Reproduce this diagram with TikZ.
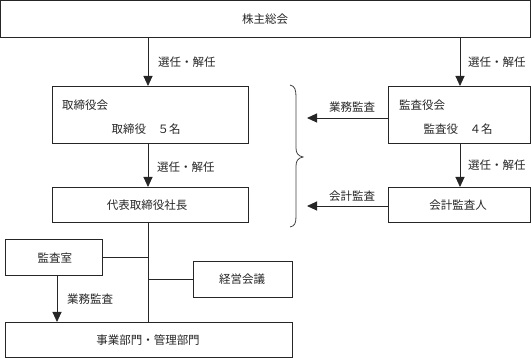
\documentclass[tikz,border=0pt]{standalone}
\usepackage{fontspec}
\newfontfamily\jp{Noto Sans CJK JP}
\usetikzlibrary{arrows.meta}
\tikzset{
  box/.style={draw=black!85, line width=0.9pt, anchor=north west, inner sep=0pt, outer sep=0pt},
  txt/.style={font=\jp\fontsize{11.5}{13}\selectfont, inner sep=0pt, text=black!85},
  conn/.style={draw=black!85, line width=0.9pt},
  arr/.style={conn, -{Triangle[length=10pt,width=9pt]}},
  bracepath/.style={draw=black!75, line width=0.8pt}
}
\begin{document}
\begin{tikzpicture}[x=1pt,y=-1pt]
\useasboundingbox (0,0) rectangle (531,358);
% boxes
\node[box, minimum width=529.5pt, minimum height=36.5pt] (top) at (0.5,0.5) {};
\node[box, minimum width=196pt, minimum height=57pt] (tori) at (52,86) {};
\node[box, minimum width=142pt, minimum height=57pt] (kansa) at (388,86) {};
\node[box, minimum width=196pt, minimum height=35pt] (daihyo) at (52,187) {};
\node[box, minimum width=142pt, minimum height=35pt] (kaikei) at (388,187) {};
\node[box, minimum width=97pt, minimum height=36pt] (shitsu) at (5,239) {};
\node[box, minimum width=99pt, minimum height=36pt] (keiei) at (193,261) {};
\node[box, minimum width=287pt, minimum height=35pt] (jigyo) at (5,322) {};
% box texts
\node[txt] (toptxt) at (265,19) {株主総会};
\node[txt, anchor=west] (toritxt) at (62,105) {取締役会};
\node[txt] (torin) at (146,129) {取締役　５名};
\node[txt, anchor=west] (kansatxt) at (399,105) {監査役会};
\node[txt] (kansan) at (458,129) {監査役　４名};
\node[txt] (daihyotxt) at (147,205) {代表取締役社長};
\node[txt] (kaikeitxt) at (458,205) {会計監査人};
\node[txt] (shitsutxt) at (55,258) {監査室};
\node[txt] (keieitxt) at (242,279) {経営会議};
\node[txt] (jigyotxt) at (148,340) {事業部門・管理部門};
% x positions of vertical connectors
\coordinate (Lx) at (148,0);
\coordinate (Rx) at (460,0);
\coordinate (Sx) at (57,0);
\coordinate (a1) at (307,118);
\coordinate (a2) at (307,206);
% connectors
\draw[arr] (top.south -| Lx) -- (tori.north -| Lx);
\draw[arr] (top.south -| Rx) -- (kansa.north -| Rx);
\draw[arr] (tori.south -| Lx) -- (daihyo.north -| Lx);
\draw[arr] (kansa.south -| Rx) -- (kaikei.north -| Rx);
\draw[arr] (kansa.west |- a1) -- (a1);
\draw[arr] (kaikei.west |- a2) -- (a2);
\draw[conn] (daihyo.south -| Lx) -- (jigyo.north -| Lx);
\draw[conn] (shitsu.east) -- (shitsu.east -| Lx);
\draw[conn] (keiei.west) -- (keiei.west -| Lx);
\draw[arr] (shitsu.south -| Sx) -- (jigyo.north -| Sx);
% labels
\node[txt, anchor=west] (l1) at (158,62) {選任・解任};
\node[txt, anchor=west] (l2) at (468,62) {選任・解任};
\node[txt, anchor=west] (l3) at (157,167) {選任・解任};
\node[txt, anchor=west] (l4) at (468,165) {選任・解任};
\node[txt] (l5) at (352,107) {業務監査};
\node[txt] (l6) at (352,196) {会計監査};
\node[txt] (l7) at (90,299) {業務監査};
% brace
\draw[bracepath] (290,85) .. controls (295,86) and (296,90) .. (296,97) -- (296,148)
  .. controls (296,153) and (298,156) .. (303,157)
  .. controls (298,158) and (296,161) .. (296,166) -- (296,216)
  .. controls (296,223) and (295,226) .. (290,227);
\end{tikzpicture}
\end{document}
